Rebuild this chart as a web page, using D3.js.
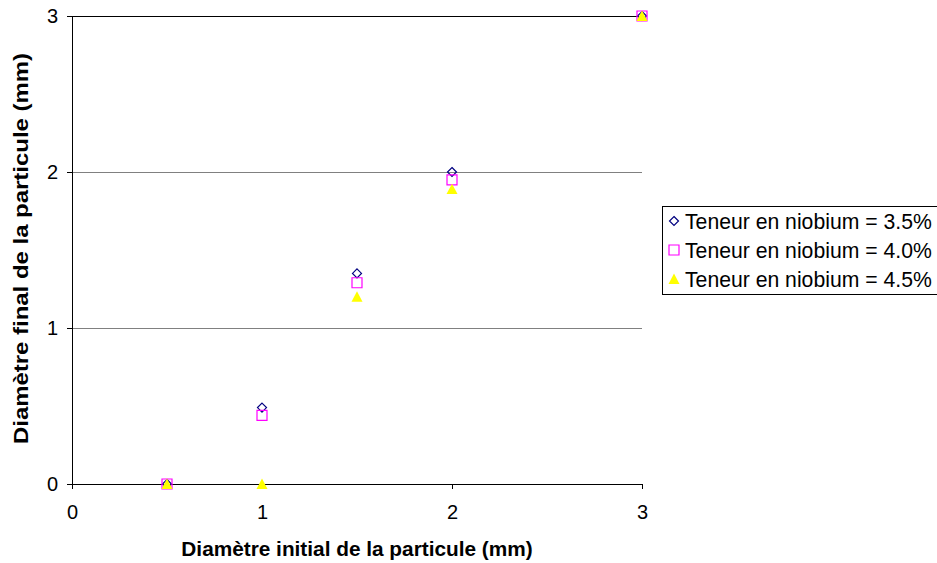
<!DOCTYPE html>
<html><head><meta charset="utf-8">
<script src="https://cdn.jsdelivr.net/npm/d3@7"></script>
<style>body{margin:0;background:#fff;}svg{display:block;font-family:"Liberation Sans",Arial,sans-serif;}</style>
</head><body>
<script>
const xValues = [0.5, 1, 1.5, 2, 3];
const series35 = [0, 0.49, 1.35, 2.0, 3.0];
const series40 = [0, 0.44, 1.29, 1.95, 3.0];
const series45 = [0, 0, 1.2, 1.89, 3.0];
const seriesNames = ["Teneur en niobium = 3.5%", "Teneur en niobium = 4.0%", "Teneur en niobium = 4.5%"];
const xTicks = [0, 1, 2, 3];
const yTicks = [0, 1, 2, 3];

const W = 937, H = 563;
const svg = d3.select("body").append("svg").attr("width", W).attr("height", H);
const x = d3.scaleLinear().domain([0, 3]).range([72, 642]);
const y = d3.scaleLinear().domain([0, 3]).range([484, 16]);

// gridlines
svg.append("g").selectAll("line").data(yTicks.filter(d => d > 0)).join("line")
  .attr("x1", x(0)).attr("x2", x(3)).attr("y1", d => y(d)).attr("y2", d => y(d))
  .attr("stroke", d => d === 3 ? "#000" : "#808080").attr("stroke-width", 1).attr("shape-rendering", "crispEdges");

// axes
const yAxis = d3.axisLeft(y).tickValues(yTicks).tickSize(5).tickPadding(9).tickFormat(d3.format("d"));
const gy = svg.append("g").attr("transform", `translate(${x(0)},0)`).call(yAxis);
const xAxis = d3.axisBottom(x).tickValues(xTicks).tickSize(5).tickPadding(16).tickFormat(d3.format("d"));
const gx = svg.append("g").attr("transform", `translate(0,${y(0)})`).call(xAxis);
[gx, gy].forEach(g => {
  g.select(".domain").attr("stroke", "#000").attr("shape-rendering", "crispEdges");
  g.selectAll(".tick line").attr("stroke", "#000").attr("shape-rendering", "crispEdges");
  g.selectAll("text").attr("font-size", 20).attr("fill", "#000").attr("font-family", "Liberation Sans, Arial, sans-serif");
});
gy.select(".domain").attr("d", `M-5,${y(3)}H0V${y(0)}H-5`);
gx.select(".domain").attr("d", `M${x(0)},5V0H${x(3)}V5`);

// titles
svg.append("text").attr("x", 357).attr("y", 556).attr("text-anchor", "middle")
  .attr("font-size", 20.8).attr("font-weight", "bold").text("Diamètre initial de la particule (mm)");
svg.append("text").attr("transform", `translate(28,248.5) rotate(-90)`).attr("text-anchor", "middle")
  .attr("font-size", 21).attr("font-weight", "bold")
  .attr("textLength", 391).attr("lengthAdjust", "spacingAndGlyphs")
  .text("Diamètre final de la particule (mm)");

const sym = {
  diamond: s => `M0,${-s}L${s},0L0,${s}L${-s},0Z`,
  square: s => `M${-s},${-s}H${s}V${s}H${-s}Z`,
  triangle: s => `M0,${-s}L${s},${s*0.9}H${-s}Z`
};
const styles = [
  {d: sym.diamond(4.5), fill: "none", stroke: "#000080", sw: 1.2},
  {d: sym.square(5), fill: "none", stroke: "#FF00FF", sw: 1.2},
  {d: sym.triangle(5.5), fill: "#FFFF00", stroke: "none", sw: 0}
];
const allSeries = [series35, series40, series45];
allSeries.forEach((vals, i) => {
  const st = styles[i];
  svg.append("g").selectAll("path").data(vals.map((v, j) => [xValues[j], v])).join("path")
    .attr("transform", d => `translate(${x(d[0])},${y(d[1])})`)
    .attr("d", st.d).attr("fill", st.fill).attr("stroke", st.stroke).attr("stroke-width", st.sw);
});

// legend
const lg = svg.append("g");
lg.append("rect").attr("x", 662.5).attr("y", 206.5).attr("width", 280).attr("height", 88)
  .attr("fill", "#fff").attr("stroke", "#000").attr("stroke-width", 1);
seriesNames.forEach((name, i) => {
  const cy = 221 + i * 29;
  lg.append("path").attr("transform", `translate(674,${cy})`).attr("d", styles[i].d)
    .attr("fill", styles[i].fill).attr("stroke", styles[i].stroke).attr("stroke-width", styles[i].sw);
  lg.append("text").attr("x", 685).attr("y", cy + 7.5).attr("font-size", 21.2).text(name);
});
</script>
</body></html>
